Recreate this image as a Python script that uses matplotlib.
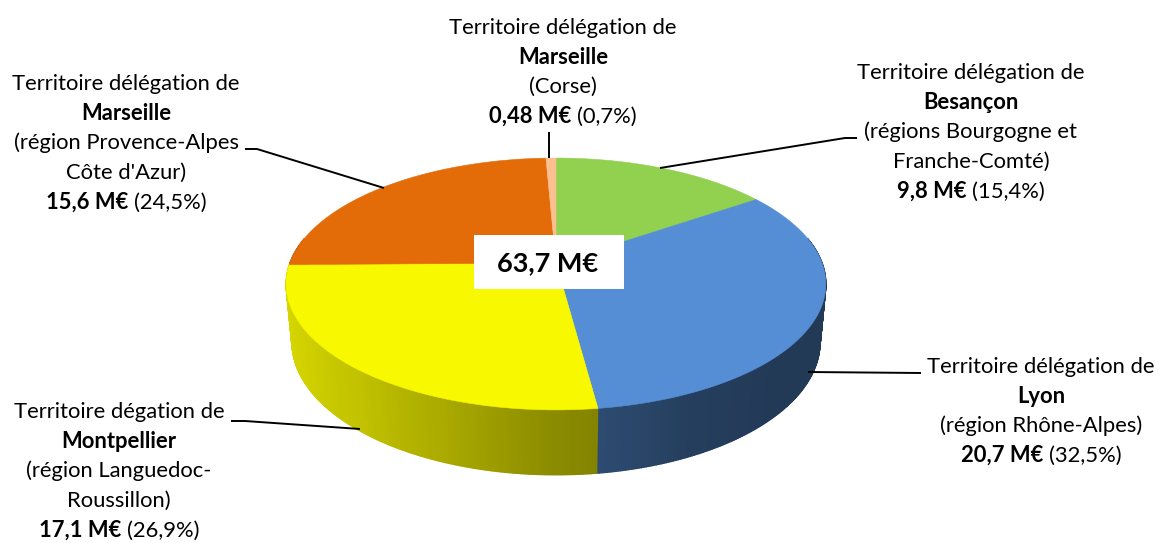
import numpy as np
import matplotlib
matplotlib.use('Agg')
import matplotlib.pyplot as plt
from matplotlib.patches import Polygon, Rectangle
from matplotlib.colors import to_rgb
from matplotlib.offsetbox import TextArea, HPacker, AnnotationBbox

plt.rcParams['font.family'] = ['Lato', 'DejaVu Sans']

# data (clockwise from 12 o'clock)
names = ['Besançon', 'Lyon', 'Montpellier', 'Marseille', 'Marseille']
intros = ['Territoire délégation de', 'Territoire délégation de', 'Territoire dégation de',
          'Territoire délégation de', 'Territoire délégation de']
regions = [['(régions Bourgogne et', 'Franche-Comté)'],
           ['(région Rhône-Alpes)'],
           ['(région Languedoc-', 'Roussillon)'],
           ['(région Provence-Alpes', "Côte d'Azur)"],
           ['(Corse)']]
amounts = ['9,8 M€', '20,7 M€', '17,1 M€', '15,6 M€', '0,48 M€']
shares = [15.4, 32.5, 26.9, 24.5, 0.7]
total = '63,7 M€'
colors = ['#92d050', '#558ed5', '#f8f800', '#e36c09', '#fac090']

# label placement (pixel coords) and leader lines
label_pos = [(971, 132), (1041, 411), (119, 471), (126, 143), (563, 72)]
leaders = [[(660, 168), (845, 138), (857, 138)],
           [(808, 372), (921, 373)],
           [(360, 429), (245, 421), (231, 421)],
           [(384, 188), (257, 149), (245, 149)],
           [(549, 158), (549, 132)]]

W, H = 1160, 543
fig = plt.figure(figsize=(W / 100, H / 100), dpi=100)
ax = fig.add_axes([0, 0, 1, 1])
ax.set_xlim(0, W)
ax.set_ylim(H, 0)
ax.axis('off')

# simple perspective camera
cx, cy = 556, 263
F, D, el, depth_h = 1418, 5.33, np.radians(27.4), 0.248


def proj(X, Y, Z):
    d = D + Y * np.cos(el) - Z * np.sin(el)
    sy = Y * np.sin(el) + Z * np.cos(el)
    return cx + F * X / d, cy - F * sy / d


fr = np.array(shares) / np.sum(shares)
bounds = 90 - 360 * np.concatenate([[0], np.cumsum(fr)])


def slice_of(phi):
    a = (90 - phi) % 360
    return min(np.searchsorted(np.cumsum(fr) * 360, a), len(fr) - 1)


def shade(phi):
    p = ((phi + 180) % 360) - 180
    if p > 90:
        p -= 360
    return np.interp(p, [-190, -170, -150, -130, -110, -90, -80, -65, -45, 15],
                     [0.87, 0.87, 0.84, 0.78, 0.68, 0.56, 0.52, 0.44, 0.41, 0.41])


# side wall
step = 0.5
phis = np.arange(-192, 12, step)
order = sorted(phis, key=lambda p: -np.sin(np.radians(p + step / 2)))
for p in order:
    t = np.radians([p, p + step])
    X, Y = np.cos(t), np.sin(t)
    xt, yt = proj(X, Y, 0)
    xb, yb = proj(X, Y, -depth_h)
    k = slice_of(p + step / 2)
    c = np.array(to_rgb(colors[k])) * shade(p + step / 2)
    ax.add_patch(Polygon([(xt[0], yt[0]), (xt[1], yt[1]), (xb[1], yb[1]), (xb[0], yb[0])],
                         closed=True, fc=c, ec=c, lw=1.0))

# top face
for i in range(len(shares)):
    t = np.radians(np.linspace(bounds[i], bounds[i + 1], 200))
    xs, ys = proj(np.cos(t), np.sin(t), 0)
    pts = [(cx, cy)] + list(zip(xs, ys))
    ax.add_patch(Polygon(pts, closed=True, fc=colors[i], ec=colors[i], lw=0.4))

# total box
ax.add_patch(Rectangle((474, 235), 150, 54, fc='white', ec='none', zorder=5))
ax.text(548, 263, total, ha='center', va='center', fontsize=19.5, fontweight='bold',
        color='black', zorder=6)

# leaders
for pts in leaders:
    xs, ys = zip(*pts)
    ax.plot(xs, ys, color='black', lw=1.4, solid_capstyle='butt', zorder=4)

# labels
fs = 15.8
spacing = 29.5
for i in range(len(shares)):
    share_txt = '({:.1f}%)'.format(shares[i]).replace('.', ',')
    lines = [[(intros[i], 'normal')], [(names[i], 'bold')]]
    lines += [[(r, 'normal')] for r in regions[i]]
    lines.append([(amounts[i], 'bold'), (share_txt, 'normal')])
    x0, y0 = label_pos[i]
    n = len(lines)
    for j, line in enumerate(lines):
        parts = [TextArea(s, textprops=dict(fontsize=fs, fontweight=w, color='black'))
                 for s, w in line]
        box = HPacker(children=parts, align='baseline', pad=0, sep=4)
        yj = y0 + (j - (n - 1) / 2) * spacing
        ab = AnnotationBbox(box, (x0, yj), frameon=False, box_alignment=(0.5, 0.5),
                            pad=0, zorder=7)
        ax.add_artist(ab)

fig.savefig('out.png', dpi=100, facecolor='white')
